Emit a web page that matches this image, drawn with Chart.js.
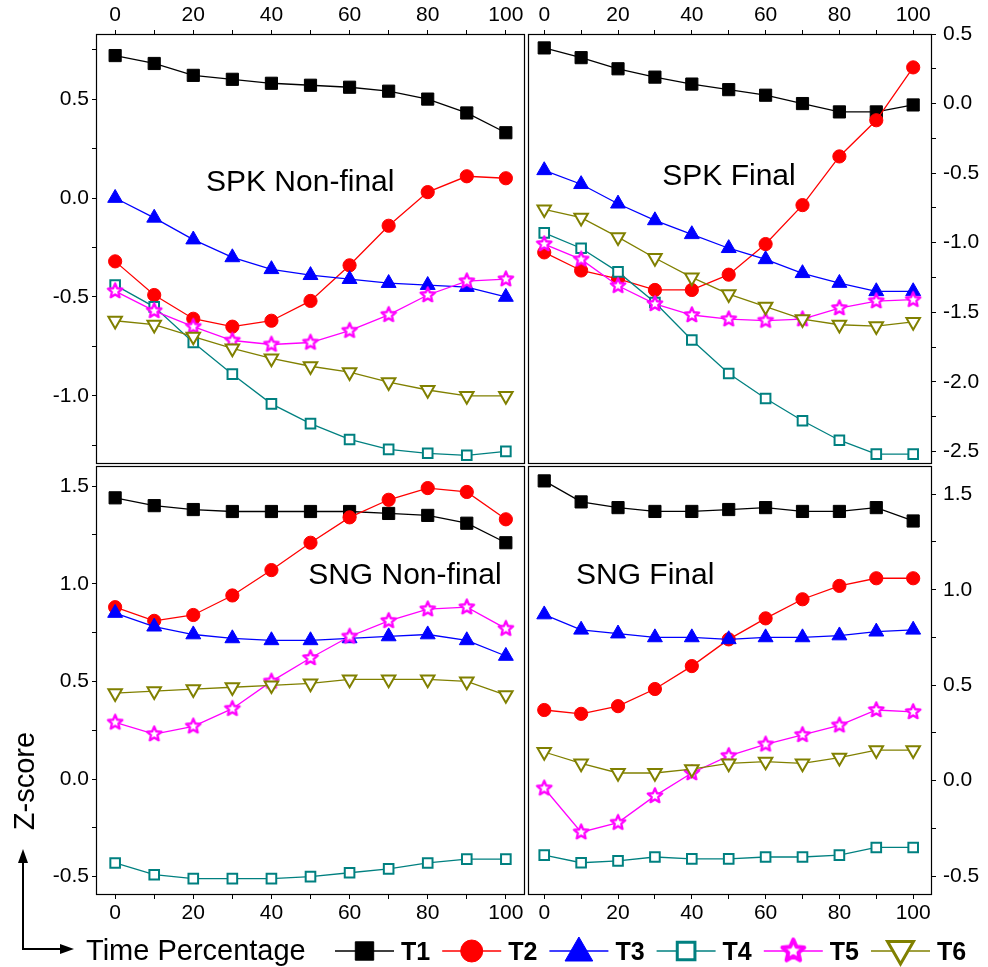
<!DOCTYPE html>
<html>
<head>
<meta charset="utf-8">
<title>Z-score by time percentage</title>
<script src="https://cdn.jsdelivr.net/npm/chart.js@4.4.1/dist/chart.umd.min.js"></script>
<style>
  html,body{margin:0;padding:0;background:#fff;}
  #wrap{position:relative;width:988px;height:967px;overflow:hidden;}
  #wrap canvas{position:absolute;left:0;top:0;}
</style>
</head>
<body>
<div id="wrap">
  <canvas id="cTL" width="988" height="967"></canvas>
  <canvas id="cTR" width="988" height="967"></canvas>
  <canvas id="cBL" width="988" height="967"></canvas>
  <canvas id="cBR" width="988" height="967"></canvas>
</div>
<script>
// ---- data ----
const timePct = [0,10,20,30,40,50,60,70,80,90,100];
const seriesNames = ['T1','T2','T3','T4','T5','T6'];
const xTickLabels = [0,20,40,60,80,100];

// SPK Non-final
const spkNonT1 = [0.72,0.68,0.62,0.60,0.58,0.57,0.56,0.54,0.50,0.43,0.33];
const spkNonT2 = [-0.32,-0.49,-0.61,-0.65,-0.62,-0.52,-0.34,-0.14,0.03,0.11,0.10];
const spkNonT3 = [0.00,-0.10,-0.21,-0.30,-0.36,-0.39,-0.41,-0.43,-0.44,-0.45,-0.50];
const spkNonT4 = [-0.44,-0.55,-0.73,-0.89,-1.04,-1.14,-1.22,-1.27,-1.29,-1.30,-1.28];
const spkNonT5 = [-0.47,-0.57,-0.65,-0.72,-0.74,-0.73,-0.67,-0.59,-0.49,-0.42,-0.41];
const spkNonT6 = [-0.62,-0.64,-0.70,-0.76,-0.81,-0.85,-0.88,-0.93,-0.97,-1.00,-1.00];
const spkNonYTicks = [-1.0,-0.5,0.0,0.5];

// SPK Final
const spkFinT1 = [0.40,0.33,0.25,0.19,0.14,0.10,0.06,0.00,-0.06,-0.06,-0.01];
const spkFinT2 = [-1.07,-1.20,-1.26,-1.34,-1.34,-1.23,-1.01,-0.73,-0.38,-0.12,0.26];
const spkFinT3 = [-0.48,-0.58,-0.72,-0.84,-0.94,-1.04,-1.12,-1.22,-1.29,-1.35,-1.35];
const spkFinT4 = [-0.93,-1.04,-1.21,-1.43,-1.70,-1.94,-2.12,-2.28,-2.42,-2.52,-2.52];
const spkFinT5 = [-1.01,-1.12,-1.31,-1.44,-1.52,-1.55,-1.56,-1.55,-1.47,-1.42,-1.41];
const spkFinT6 = [-0.76,-0.82,-0.96,-1.11,-1.25,-1.37,-1.46,-1.55,-1.59,-1.60,-1.57];
const spkFinYTicks = [-2.5,-2.0,-1.5,-1.0,-0.5,0.0,0.5];

// SNG Non-final
const sngNonT1 = [1.44,1.40,1.38,1.37,1.37,1.37,1.37,1.36,1.35,1.31,1.21];
const sngNonT2 = [0.88,0.81,0.84,0.94,1.07,1.21,1.34,1.43,1.49,1.47,1.33];
const sngNonT3 = [0.85,0.78,0.74,0.72,0.71,0.71,0.72,0.73,0.74,0.71,0.63];
const sngNonT4 = [-0.43,-0.49,-0.51,-0.51,-0.51,-0.50,-0.48,-0.46,-0.43,-0.41,-0.41];
const sngNonT5 = [0.29,0.23,0.27,0.36,0.50,0.62,0.73,0.81,0.87,0.88,0.77];
const sngNonT6 = [0.44,0.45,0.46,0.47,0.48,0.49,0.51,0.51,0.51,0.50,0.43];
const sngNonYTicks = [-0.5,0.0,0.5,1.0,1.5];

// SNG Final
const sngFinT1 = [1.57,1.46,1.43,1.41,1.41,1.42,1.43,1.41,1.41,1.43,1.36];
const sngFinT2 = [0.37,0.35,0.39,0.48,0.60,0.74,0.85,0.95,1.02,1.06,1.06];
const sngFinT3 = [0.87,0.79,0.77,0.75,0.75,0.74,0.75,0.75,0.76,0.78,0.79];
const sngFinT4 = [-0.39,-0.43,-0.42,-0.40,-0.41,-0.41,-0.40,-0.40,-0.39,-0.35,-0.35];
const sngFinT5 = [-0.04,-0.27,-0.22,-0.08,0.04,0.13,0.19,0.24,0.29,0.37,0.36];
const sngFinT6 = [0.15,0.09,0.04,0.04,0.06,0.09,0.10,0.09,0.12,0.16,0.16];
const sngFinYTicks = [-0.5,0.0,0.5,1.0,1.5];

(function(){
  const FONT = "'Liberation Sans', Arial, Helvetica, sans-serif";
  const W = 988, H = 967;

  function starImage(outer, inner, lw, color){
    const c = document.createElement('canvas');
    const s = Math.ceil(2*outer + lw + 2);
    c.width = s; c.height = s;
    const g = c.getContext('2d');
    g.beginPath();
    for(let k=0;k<10;k++){
      const r = k%2 ? inner : outer;
      const a = -Math.PI/2 + k*Math.PI/5;
      const px = s/2 + r*Math.cos(a), py = s/2 + r*Math.sin(a);
      k ? g.lineTo(px,py) : g.moveTo(px,py);
    }
    g.closePath();
    g.fillStyle = '#fff'; g.fill();
    g.lineJoin = 'round'; g.lineWidth = lw; g.strokeStyle = color; g.stroke();
    return c;
  }

  // marker look per series: plot size and legend size
  const seriesStyle = [
    { color:'#000000', fill:'#000000', style:'rect',     r:8.6, bw:1, rot:0,   lr:13,  lbw:1 },
    { color:'#ff0000', fill:'#ff0000', style:'circle',   r:6.6, bw:1, rot:0,   lr:11,  lbw:1 },
    { color:'#0000ff', fill:'#0000ff', style:'triangle', r:8.6, bw:1, rot:0,   lr:16,  lbw:1 },
    { color:'#008080', fill:'#ffffff', style:'rect',     r:6.8, bw:2, rot:0,   lr:12.5,lbw:3 },
    { color:'#ff00ff', fill:'#ffffff', style:starImage(7.6,3.4,2.3,'#ff00ff'), r:7.5, bw:0, rot:0,
      legendImg: starImage(11.5,5.3,4,'#ff00ff'), lr:12, lbw:0 },
    { color:'#808000', fill:'#ffffff', style:'triangle', r:7.8, bw:2, rot:180, lr:15,  lbw:3 }
  ];

  const panels = [
    { id:'cTL', title:'SPK Non-final', series:[spkNonT1,spkNonT2,spkNonT3,spkNonT4,spkNonT5,spkNonT6],
      yTicks:spkNonYTicks, xMin:-4.9, xMax:104.9, yMin:-1.344, yMax:0.829, xPos:'top', yPos:'left',
      box:[96,34,525,464], titleAt:[0.476,0.365] },
    { id:'cTR', title:'SPK Final', series:[spkFinT1,spkFinT2,spkFinT3,spkFinT4,spkFinT5,spkFinT6],
      yTicks:spkFinYTicks, xMin:-4.4, xMax:105.1, yMin:-2.591, yMax:0.5, xPos:'top', yPos:'right',
      box:[528,34,932,464], titleAt:[0.4975,0.351] },
    { id:'cBL', title:'SNG Non-final', series:[sngNonT1,sngNonT2,sngNonT3,sngNonT4,sngNonT5,sngNonT6],
      yTicks:sngNonYTicks, xMin:-4.9, xMax:104.9, yMin:-0.594, yMax:1.603, xPos:'bottom', yPos:'left',
      box:[96,466,525,895], titleAt:[0.72,0.275], overlay:true },
    { id:'cBR', title:'SNG Final', series:[sngFinT1,sngFinT2,sngFinT3,sngFinT4,sngFinT5,sngFinT6],
      yTicks:sngFinYTicks, xMin:-4.4, xMax:105.1, yMin:-0.599, yMax:1.648, xPos:'bottom', yPos:'right',
      box:[528,466,932,895], titleAt:[0.29,0.275] }
  ];

  const YW = 56, XH = 30;

  function zeroPad(s){ s.paddingTop = 0; s.paddingBottom = 0; s.paddingLeft = 0; s.paddingRight = 0; }

  // crisp 1px frame round each panel's plot area
  const framePlugin = {
    id:'frame',
    afterDraw(chart){
      const a = chart.chartArea, ctx = chart.ctx;
      ctx.save(); ctx.strokeStyle = '#000'; ctx.lineWidth = 1.2;
      ctx.strokeRect(a.left + 0.5, a.top + 0.5, a.right - a.left - 1, a.bottom - a.top - 1);
      ctx.restore();
    }
  };

  const titlePlugin = {
    id:'panelTitle',
    afterDraw(chart, args, opts){
      const a = chart.chartArea, ctx = chart.ctx;
      ctx.save();
      ctx.font = '30px ' + FONT; ctx.fillStyle = '#000';
      ctx.textAlign = 'center'; ctx.textBaseline = 'alphabetic';
      ctx.fillText(opts.text, a.left + opts.at[0]*(a.right-a.left), a.top + opts.at[1]*(a.bottom-a.top));
      ctx.restore();
    }
  };

  function arrowHead(ctx, x, y, dx, dy){
    const L = 14, hw = 5;
    ctx.beginPath();
    ctx.moveTo(x, y);
    ctx.lineTo(x - dx*L - dy*hw, y - dy*L + dx*hw);
    ctx.lineTo(x - dx*L + dy*hw, y - dy*L - dx*hw);
    ctx.closePath(); ctx.fill();
  }

  // axis captions, arrows and legend along the bottom
  const overlayPlugin = {
    id:'overlay',
    afterDraw(chart){
      const ctx = chart.ctx;
      ctx.save();
      ctx.fillStyle = '#000'; ctx.strokeStyle = '#000'; ctx.lineWidth = 2;
      ctx.beginPath(); ctx.moveTo(23, 852); ctx.lineTo(23, 949); ctx.lineTo(62, 949); ctx.stroke();
      arrowHead(ctx, 23, 849, 0, -1);
      arrowHead(ctx, 74, 949, 1, 0);

      ctx.font = '29px ' + FONT; ctx.textBaseline = 'alphabetic';
      ctx.textAlign = 'left';
      ctx.fillText('Time Percentage', 86, 960);
      ctx.save();
      ctx.translate(34, 781); ctx.rotate(-Math.PI/2);
      ctx.textAlign = 'center';
      ctx.fillText('Z-score', 0, 0);
      ctx.restore();

      const ly = 951;
      seriesNames.forEach((name, i) => {
        const s = seriesStyle[i];
        const x0 = 335 + i*107.2;
        ctx.strokeStyle = s.color; ctx.lineWidth = 1.5;
        ctx.beginPath(); ctx.moveTo(x0, ly); ctx.lineTo(x0 + 59, ly); ctx.stroke();
        const cx = x0 + 29.5;
        const pst = s.legendImg || s.style;
        ctx.fillStyle = s.fill; ctx.strokeStyle = s.color; ctx.lineWidth = s.lbw;
        Chart.helpers.drawPoint(ctx, { pointStyle: pst, rotation: s.rot, radius: s.lr, borderWidth: s.lbw },
          cx, s.rot ? ly - 2 : ly + (s.style === 'triangle' ? 2 : 0));
        ctx.fillStyle = '#000';
        ctx.font = 'bold 25px ' + FONT; ctx.textAlign = 'left';
        ctx.fillText(name, x0 + 66, 960);
      });
      ctx.restore();
    }
  };

  function yLabel(ticks){
    return v => { const t = ticks.find(k => Math.abs(k - v) < 1e-6); return t === undefined ? '' : t.toFixed(1); };
  }

  function makeChart(p){
    const ds = p.series.map((vals, i) => {
      const s = seriesStyle[i];
      return {
        label: seriesNames[i],
        data: timePct.map((x, j) => ({ x: x, y: vals[j] })),
        borderColor: s.color, borderWidth: 1.3, backgroundColor: s.fill,
        pointStyle: s.style, pointRadius: s.r, pointRotation: s.rot,
        pointBackgroundColor: s.fill, pointBorderColor: s.color, pointBorderWidth: s.bw,
        tension: 0, fill: false, order: 6 - i
      };
    });
    const b = p.box;
    const pad = {
      left: p.yPos === 'left' ? b[0] - YW : b[0],
      right: p.yPos === 'right' ? W - b[2] - YW : W - b[2],
      top: p.xPos === 'top' ? b[1] - XH : b[1],
      bottom: p.xPos === 'bottom' ? H - b[3] - XH : H - b[3]
    };
    const tickFont = { family: FONT, size: 21 };
    const plugins = [framePlugin, titlePlugin];
    if(p.overlay) plugins.push(overlayPlugin);
    return new Chart(document.getElementById(p.id), {
      type: 'line',
      data: { datasets: ds },
      plugins: plugins,
      options: {
        responsive: false, maintainAspectRatio: false, animation: false, events: [],
        layout: { padding: pad },
        plugins: {
          legend: { display: false }, tooltip: { enabled: false },
          panelTitle: { text: p.title, at: p.titleAt }
        },
        scales: {
          x: {
            type: 'linear', position: p.xPos, min: p.xMin, max: p.xMax,
            ticks: { stepSize: 10, maxTicksLimit: 50, includeBounds: false, autoSkip: false, maxRotation: 0,
              padding: 2, color: '#000', font: tickFont,
              callback: v => xTickLabels.includes(Math.round(v)) && Math.abs(v - Math.round(v)) < 1e-6 ? String(Math.round(v)) : '' },
            grid: { drawOnChartArea: false, drawTicks: true, tickLength: 4, tickColor: '#000', tickWidth: 1 },
            border: { display: false },
            afterFit: s => { s.height = XH; zeroPad(s); }
          },
          y: {
            type: 'linear', position: p.yPos, min: p.yMin, max: p.yMax,
            ticks: { stepSize: 0.25, maxTicksLimit: 50, includeBounds: false, autoSkip: false,
              padding: p.yPos === 'left' ? 3 : 7, color: '#000', font: tickFont, callback: yLabel(p.yTicks) },
            grid: { drawOnChartArea: false, drawTicks: true, tickLength: 4, tickColor: '#000', tickWidth: 1 },
            border: { display: false },
            afterFit: s => { s.width = YW; zeroPad(s); }
          }
        }
      }
    });
  }

  function start(){ panels.forEach(makeChart); }
  start();
})();
</script>
</body>
</html>
